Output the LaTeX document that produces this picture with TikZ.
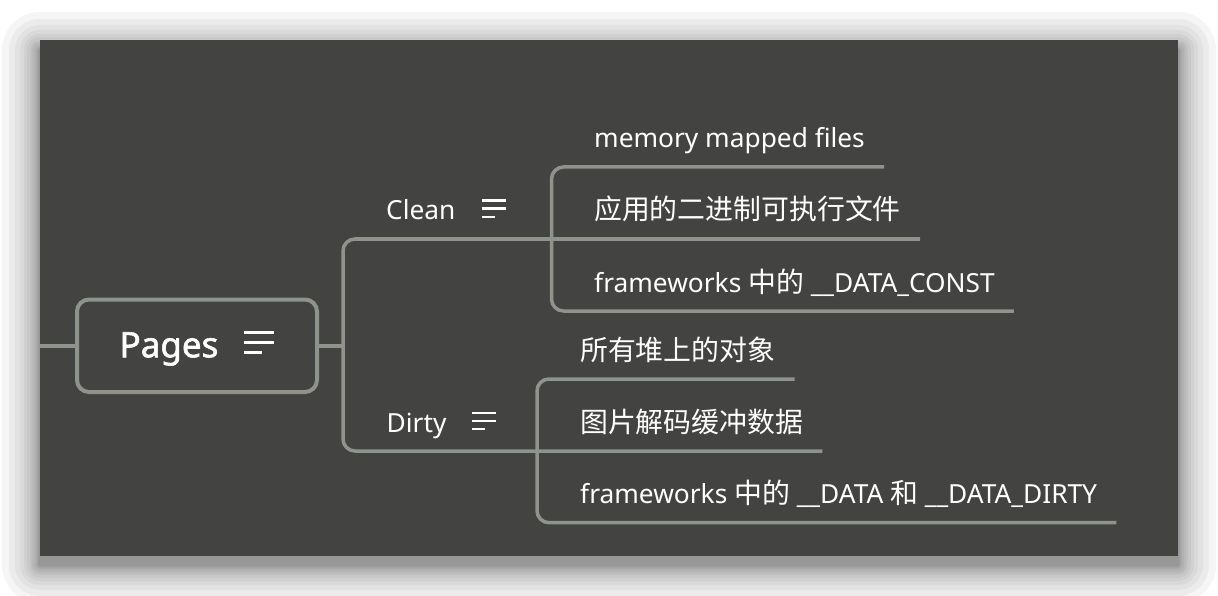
\documentclass[tikz,border=0pt]{standalone}
\usepackage{fontspec}
\setmainfont{Noto Sans}
\newfontfamily\cjk[Scale=1.06]{Noto Sans CJK SC}
\newfontfamily\pagesfont[FakeBold=1.6]{Noto Sans}
\usepackage{tikz}
\usetikzlibrary{positioning}

\definecolor{mapbg}{HTML}{434441}
\definecolor{mapline}{HTML}{8F938C}

%three lines of the note icon: long, short, thickness, gap
\newcommand{\notelines}[4]{\vbox{\hrule width #1 height #3\vskip #4\hrule width #1 height #3\vskip #4\hrule width #2 height #3}}

\tikzset{
	branch/.style={draw=mapline, line width=3.5pt, rounded corners=12pt},
	topic/.style={text=white, inner sep=0pt, anchor=base west, font=\fontsize{26.3}{30}\selectfont},
	rootbox/.style={draw=mapline, line width=4pt, rounded corners=12pt, minimum width=240pt, minimum height=92.5pt, inner sep=0pt, text=white, text height=25pt, text depth=2pt, font=\pagesfont\fontsize{35}{40}\selectfont},
	noteicon/.style={text=white, inner sep=0pt, anchor=base west}
}

\begin{document}
\begin{tikzpicture}[x=1pt, y=-1pt]

	\useasboundingbox (0,0) rectangle (1218,596);

	%Shadow and sheet
	\foreach \s in {1,2,3,4,6,8,10,13,16,20,25,31,38}
		\fill[black, opacity=0.04, rounded corners=\s pt] ({40-\s},{50-\s}) rectangle ({1178+\s},{565+\s});
	\fill[mapbg] (40,40) rectangle (1178,555.5);

	%Root
	\node[rootbox] (pages) at (197,345.75) {Pages\hspace{26pt}\raisebox{3pt}{\notelines{30pt}{17.6pt}{3pt}{7pt}}};

	%Branches
	\node[topic] (clean) at (386,220) {Clean};
	\node[noteicon] (cleanicon) at ([xshift=26pt]clean.base east) {\raisebox{2.2pt}{\notelines{24pt}{13pt}{2.3pt}{5.7pt}}};

	\node[topic] (dirty) at (386.5,432) {Dirty};
	\node[noteicon] (dirtyicon) at ([xshift=25pt]dirty.base east) {\raisebox{2pt}{\notelines{24pt}{13pt}{2.3pt}{5.7pt}}};

	%Leaves
	\node[topic] (mmap) at (594,148) {memory mapped files};
	\node[topic] (binary) at (594,220) {\cjk 应用的二进制可执行文件};
	\node[topic] (constdata) at (594,292) {frameworks {\cjk 中的} \_\_DATA\_CONST};

	\node[topic] (heap) at (580,360) {\cjk 所有堆上的对象};
	\node[topic] (image) at (580,432) {\cjk 图片解码缓冲数据};
	\node[topic] (dirtydata) at (580,503.7) {frameworks {\cjk 中的} \_\_DATA {\cjk 和} \_\_DATA\_DIRTY};

	%Joints
	\coordinate (edge) at (40,345.75);
	\coordinate (pj) at (343,345.75);
	\coordinate (cj) at (551.5,239);
	\coordinate (dj) at (537,451);

	%Connectors
	\draw[branch] (edge) -- (pages);
	\draw[branch] (pages) -- (pj);
	\draw[branch] (pj) |- ([shift={(19pt,-19pt)}]binary.base east); %underline of Clean runs on
	\draw[branch] (pj) |- ([shift={(19pt,-19pt)}]image.base east);

	\draw[branch] (cj) |- ([shift={(19pt,-19pt)}]mmap.base east);
	\draw[branch] (cj) |- ([shift={(19pt,-19pt)}]constdata.base east);

	\draw[branch] (dj) |- ([shift={(19pt,-19pt)}]heap.base east);
	\draw[branch] (dj) |- ([shift={(19pt,-19pt)}]dirtydata.base east);

\end{tikzpicture}
\end{document}
